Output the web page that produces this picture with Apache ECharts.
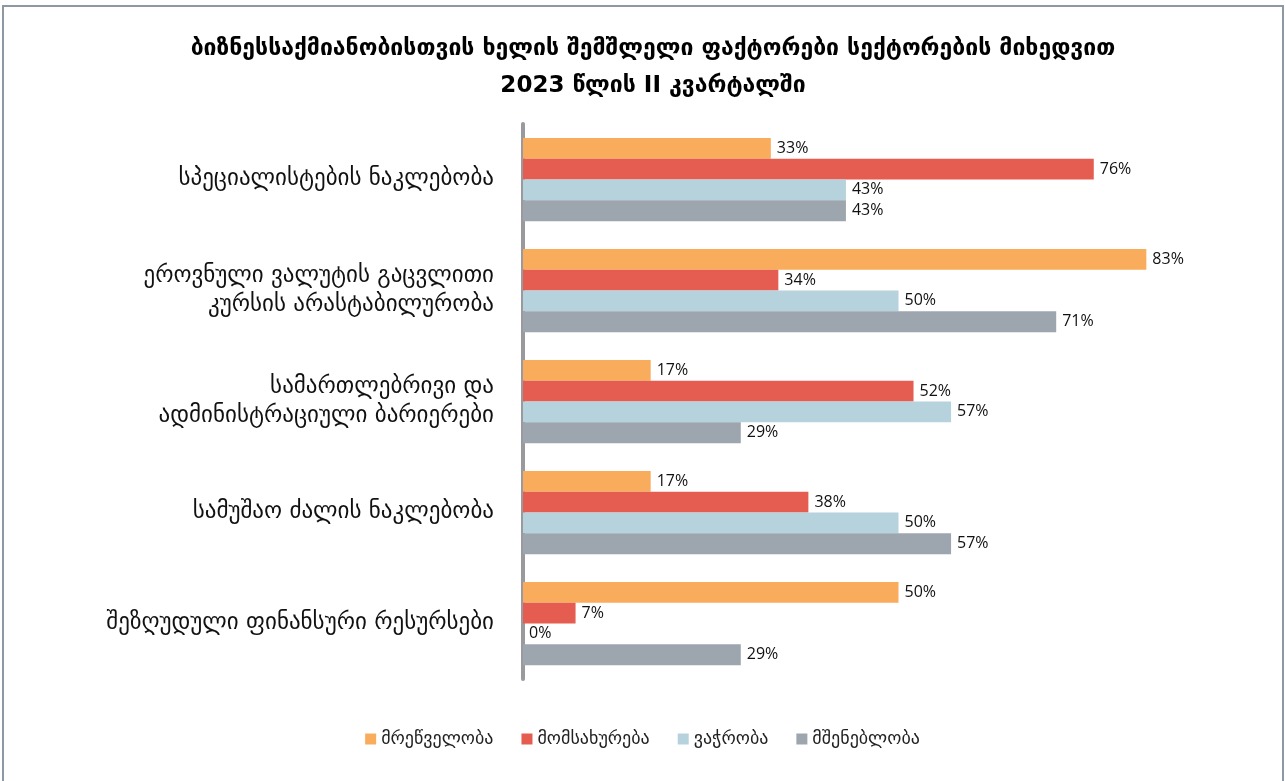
<!DOCTYPE html>
<html>
<head>
<meta charset="utf-8">
<script src="https://cdn.jsdelivr.net/npm/echarts@6/dist/echarts.min.js"></script>
<style>
  html, body { margin: 0; padding: 0; background: #fff; }
  #frame {
    position: absolute; left: 2px; top: 5px; width: 1282px; height: 800px;
    border: 2px solid #8d98a2; box-sizing: border-box;
  }
  #chart { position: absolute; left: 0; top: 0; width: 1285px; height: 781px; }
</style>
</head>
<body>
<div id="frame"></div>
<div id="chart"></div>
<script>
const categories = [
  'სპეციალისტების ნაკლებობა',
  'ეროვნული ვალუტის გაცვლითი\nკურსის არასტაბილურობა',
  'სამართლებრივი და\nადმინისტრაციული ბარიერები',
  'სამუშაო ძალის ნაკლებობა',
  'შეზღუდული ფინანსური რესურსები',
]
const seriesNames = ['მრეწველობა', 'მომსახურება', 'ვაჭრობა', 'მშენებლობა']
const industry = [33, 83, 17, 17, 50]
const services = [76, 34, 52, 38, 7]
const trade = [43, 50, 57, 50, 0]
const construction = [43, 71, 29, 57, 29]
const colors = ['#f8ac5c', '#e55c51', '#b6d2dc', '#9da6ae']

const font = '"DejaVu Sans", sans-serif'
const chart = echarts.init(document.getElementById('chart'))

const makeSeries = (name, data, color) => ({
  name,
  type: 'bar',
  data,
  barGap: '0%',
  barCategoryGap: '25%',
  itemStyle: { color },
  label: {
    show: true,
    position: 'right',
    distance: 6,
    formatter: '{c}%',
    color: '#111',
    fontFamily: '"Open Sans", sans-serif',
    fontSize: 16,
  },
})

chart.setOption({
  animation: false,
  title: {
    text: 'ბიზნესსაქმიანობისთვის ხელის შემშლელი ფაქტორები სექტორების მიხედვით\n2023 წლის II კვარტალში',
    left: 648,
    top: 26,
    textAlign: 'center',
    textStyle: {
      fontFamily: font,
      fontWeight: 'bold',
      fontSize: 23,
      lineHeight: 37,
      color: '#000',
    },
  },
  legend: {
    data: seriesNames,
    left: 'center',
    top: 725,
    itemWidth: 11,
    itemHeight: 11,
    itemGap: 28,
    icon: 'rect',
    textStyle: { fontFamily: font, fontSize: 18, color: '#222' },
  },
  grid: { left: 523, top: 124, width: 751, height: 555 },
  xAxis: {
    type: 'value',
    min: 0,
    max: 100,
    show: false,
  },
  yAxis: {
    type: 'category',
    data: categories,
    inverse: true,
    axisTick: { show: false },
    axisLine: { show: true, lineStyle: { color: '#9a9a9e', width: 4 } },
    axisLabel: {
      margin: 29,
      fontFamily: font,
      fontSize: 23,
      lineHeight: 29,
      color: '#111',
      align: 'right',
    },
  },
  series: [
    makeSeries(seriesNames[0], industry, colors[0]),
    makeSeries(seriesNames[1], services, colors[1]),
    makeSeries(seriesNames[2], trade, colors[2]),
    makeSeries(seriesNames[3], construction, colors[3]),
  ],
})
</script>
</body>
</html>
